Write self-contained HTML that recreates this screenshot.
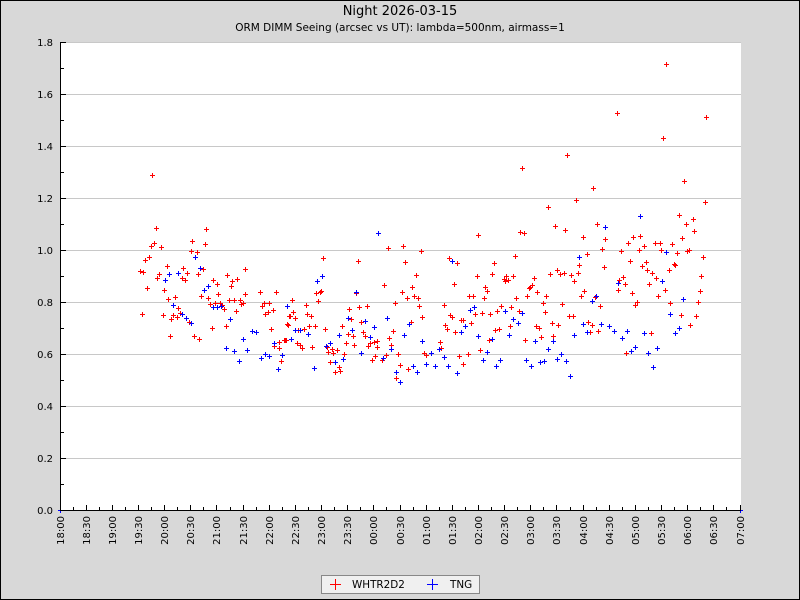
<!DOCTYPE html>
<html><head><meta charset="utf-8"><style>
html,body{margin:0;padding:0;background:#d8d8d8;}
svg{display:block;}
text{font-family:"DejaVu Sans","Liberation Sans",sans-serif;fill:#000;}
</style></head><body>
<svg width="800" height="600" viewBox="0 0 800 600" xmlns="http://www.w3.org/2000/svg" shape-rendering="crispEdges">
<rect x="0" y="0" width="800" height="600" fill="#d8d8d8"/>
<rect x="0.5" y="0.5" width="799" height="599" fill="none" stroke="#000"/>
<rect x="61" y="42" width="680" height="468" fill="#fff"/>
<path d="M61 42.5H741M61 94.5H741M61 146.5H741M61 198.5H741M61 250.5H741M61 302.5H741M61 354.5H741M61 406.5H741M61 458.5H741" stroke="#c8c8c8" fill="none"/>
<text x="400" y="15" font-size="13" text-anchor="middle">Night 2026-03-15</text>
<text x="400" y="31" font-size="10.5" text-anchor="middle">ORM DIMM Seeing (arcsec vs UT): lambda=500nm, airmass=1</text>
<g fill="none" stroke="#f00" transform="translate(-2 0.5)">
<path d="M152 175h5m-2.5-2.5v5M156 228h5m-2.5-2.5v5M206 229h5m-2.5-2.5v5M192 241h5m-2.5-2.5v5M154 243h5m-2.5-2.5v5M151 246h5m-2.5-2.5v5M161 247h5m-2.5-2.5v5M205 244h5m-2.5-2.5v5M191 251h5m-2.5-2.5v5M197 252h5m-2.5-2.5v5M149 257h5m-2.5-2.5v5M145 260h5m-2.5-2.5v5M167 266h5m-2.5-2.5v5M183 268h5m-2.5-2.5v5M203 269h5m-2.5-2.5v5M245 269h5m-2.5-2.5v5M140 271h5m-2.5-2.5v5M143 272h5m-2.5-2.5v5M159 274h5m-2.5-2.5v5M187 273h5m-2.5-2.5v5M198 274h5m-2.5-2.5v5M157 278h5m-2.5-2.5v5M182 278h5m-2.5-2.5v5M185 280h5m-2.5-2.5v5M227 275h5m-2.5-2.5v5M213 280h5m-2.5-2.5v5M237 279h5m-2.5-2.5v5M232 281h5m-2.5-2.5v5M217 284h5m-2.5-2.5v5M231 286h5m-2.5-2.5v5M147 288h5m-2.5-2.5v5M164 290h5m-2.5-2.5v5M260 292h5m-2.5-2.5v5M276 292h5m-2.5-2.5v5M218 294h5m-2.5-2.5v5M245 294h5m-2.5-2.5v5M175 297h5m-2.5-2.5v5M201 296h5m-2.5-2.5v5M208 298h5m-2.5-2.5v5M168 299h5m-2.5-2.5v5M229 300h5m-2.5-2.5v5M234 300h5m-2.5-2.5v5M240 300h5m-2.5-2.5v5M210 304h5m-2.5-2.5v5M215 303h5m-2.5-2.5v5M220 303h5m-2.5-2.5v5M222 305h5m-2.5-2.5v5M241 304h5m-2.5-2.5v5M243 303h5m-2.5-2.5v5M262 306h5m-2.5-2.5v5M264 303h5m-2.5-2.5v5M269 303h5m-2.5-2.5v5M178 308h5m-2.5-2.5v5M224 309h5m-2.5-2.5v5M236 311h5m-2.5-2.5v5M273 310h5m-2.5-2.5v5M268 312h5m-2.5-2.5v5M265 314h5m-2.5-2.5v5M180 313h5m-2.5-2.5v5M173 315h5m-2.5-2.5v5M177 317h5m-2.5-2.5v5M163 315h5m-2.5-2.5v5M171 319h5m-2.5-2.5v5M142 314h5m-2.5-2.5v5M189 322h5m-2.5-2.5v5M289 316h5m-2.5-2.5v5M287 324h5m-2.5-2.5v5M288 325h5m-2.5-2.5v5M226 326h5m-2.5-2.5v5M212 328h5m-2.5-2.5v5M271 329h5m-2.5-2.5v5M170 336h5m-2.5-2.5v5M194 336h5m-2.5-2.5v5M199 339h5m-2.5-2.5v5M279 342h5m-2.5-2.5v5M284 340h5m-2.5-2.5v5M286 340h5m-2.5-2.5v5M274 346h5m-2.5-2.5v5M279 348h5m-2.5-2.5v5M281 361h5m-2.5-2.5v5"/>
<path d="M323 258h5m-2.5-2.5v5M358 261h5m-2.5-2.5v5M388 248h5m-2.5-2.5v5M403 246h5m-2.5-2.5v5M421 251h5m-2.5-2.5v5M405 262h5m-2.5-2.5v5M416 275h5m-2.5-2.5v5M384 285h5m-2.5-2.5v5M412 287h5m-2.5-2.5v5M402 292h5m-2.5-2.5v5M407 298h5m-2.5-2.5v5M414 296h5m-2.5-2.5v5M418 298h5m-2.5-2.5v5M316 293h5m-2.5-2.5v5M320 292h5m-2.5-2.5v5M321 291h5m-2.5-2.5v5M318 301h5m-2.5-2.5v5M292 300h5m-2.5-2.5v5M356 293h5m-2.5-2.5v5M395 303h5m-2.5-2.5v5M419 306h5m-2.5-2.5v5M422 317h5m-2.5-2.5v5M306 305h5m-2.5-2.5v5M293 312h5m-2.5-2.5v5M290 316h5m-2.5-2.5v5M295 318h5m-2.5-2.5v5M307 314h5m-2.5-2.5v5M311 316h5m-2.5-2.5v5M309 326h5m-2.5-2.5v5M315 326h5m-2.5-2.5v5M304 329h5m-2.5-2.5v5M298 330h5m-2.5-2.5v5M325 329h5m-2.5-2.5v5M349 309h5m-2.5-2.5v5M359 307h5m-2.5-2.5v5M367 306h5m-2.5-2.5v5M351 319h5m-2.5-2.5v5M361 322h5m-2.5-2.5v5M342 326h5m-2.5-2.5v5M411 322h5m-2.5-2.5v5M393 331h5m-2.5-2.5v5M363 332h5m-2.5-2.5v5M365 336h5m-2.5-2.5v5M348 334h5m-2.5-2.5v5M353 336h5m-2.5-2.5v5M389 338h5m-2.5-2.5v5M285 340h5m-2.5-2.5v5M297 343h5m-2.5-2.5v5M300 345h5m-2.5-2.5v5M302 348h5m-2.5-2.5v5M312 347h5m-2.5-2.5v5M346 343h5m-2.5-2.5v5M354 345h5m-2.5-2.5v5M368 346h5m-2.5-2.5v5M370 343h5m-2.5-2.5v5M374 342h5m-2.5-2.5v5M377 341h5m-2.5-2.5v5M391 345h5m-2.5-2.5v5M377 347h5m-2.5-2.5v5M327 347h5m-2.5-2.5v5M332 349h5m-2.5-2.5v5M337 350h5m-2.5-2.5v5M328 352h5m-2.5-2.5v5M333 353h5m-2.5-2.5v5M344 354h5m-2.5-2.5v5M375 356h5m-2.5-2.5v5M372 360h5m-2.5-2.5v5M386 355h5m-2.5-2.5v5M382 360h5m-2.5-2.5v5M398 354h5m-2.5-2.5v5M424 353h5m-2.5-2.5v5M426 355h5m-2.5-2.5v5M330 362h5m-2.5-2.5v5M339 367h5m-2.5-2.5v5M335 372h5m-2.5-2.5v5M340 371h5m-2.5-2.5v5M400 365h5m-2.5-2.5v5M408 369h5m-2.5-2.5v5M396 378h5m-2.5-2.5v5"/>
<path d="M567 155h5m-2.5-2.5v5M522 168h5m-2.5-2.5v5M576 200h5m-2.5-2.5v5M548 207h5m-2.5-2.5v5M478 235h5m-2.5-2.5v5M520 232h5m-2.5-2.5v5M524 233h5m-2.5-2.5v5M555 226h5m-2.5-2.5v5M565 230h5m-2.5-2.5v5M449 258h5m-2.5-2.5v5M457 263h5m-2.5-2.5v5M515 256h5m-2.5-2.5v5M494 263h5m-2.5-2.5v5M579 265h5m-2.5-2.5v5M492 274h5m-2.5-2.5v5M477 276h5m-2.5-2.5v5M513 276h5m-2.5-2.5v5M506 276h5m-2.5-2.5v5M504 279h5m-2.5-2.5v5M508 280h5m-2.5-2.5v5M505 281h5m-2.5-2.5v5M534 278h5m-2.5-2.5v5M550 274h5m-2.5-2.5v5M557 270h5m-2.5-2.5v5M560 274h5m-2.5-2.5v5M564 273h5m-2.5-2.5v5M571 275h5m-2.5-2.5v5M578 273h5m-2.5-2.5v5M574 281h5m-2.5-2.5v5M454 284h5m-2.5-2.5v5M532 285h5m-2.5-2.5v5M530 287h5m-2.5-2.5v5M529 288h5m-2.5-2.5v5M485 287h5m-2.5-2.5v5M487 291h5m-2.5-2.5v5M537 292h5m-2.5-2.5v5M469 296h5m-2.5-2.5v5M473 296h5m-2.5-2.5v5M484 298h5m-2.5-2.5v5M516 298h5m-2.5-2.5v5M527 296h5m-2.5-2.5v5M546 296h5m-2.5-2.5v5M444 305h5m-2.5-2.5v5M543 303h5m-2.5-2.5v5M562 304h5m-2.5-2.5v5M501 306h5m-2.5-2.5v5M511 307h5m-2.5-2.5v5M497 311h5m-2.5-2.5v5M490 314h5m-2.5-2.5v5M482 313h5m-2.5-2.5v5M475 314h5m-2.5-2.5v5M519 311h5m-2.5-2.5v5M545 312h5m-2.5-2.5v5M450 315h5m-2.5-2.5v5M452 317h5m-2.5-2.5v5M461 320h5m-2.5-2.5v5M463 320h5m-2.5-2.5v5M471 323h5m-2.5-2.5v5M569 316h5m-2.5-2.5v5M573 316h5m-2.5-2.5v5M445 325h5m-2.5-2.5v5M447 329h5m-2.5-2.5v5M455 332h5m-2.5-2.5v5M510 326h5m-2.5-2.5v5M552 323h5m-2.5-2.5v5M558 325h5m-2.5-2.5v5M536 326h5m-2.5-2.5v5M539 328h5m-2.5-2.5v5M499 329h5m-2.5-2.5v5M495 330h5m-2.5-2.5v5M541 337h5m-2.5-2.5v5M553 336h5m-2.5-2.5v5M489 340h5m-2.5-2.5v5M525 340h5m-2.5-2.5v5M440 342h5m-2.5-2.5v5M441 348h5m-2.5-2.5v5M480 350h5m-2.5-2.5v5M468 354h5m-2.5-2.5v5M459 356h5m-2.5-2.5v5M463 364h5m-2.5-2.5v5"/>
<path d="M663 138h5m-2.5-2.5v5M684 181h5m-2.5-2.5v5M593 188h5m-2.5-2.5v5M705 202h5m-2.5-2.5v5M679 215h5m-2.5-2.5v5M693 219h5m-2.5-2.5v5M597 224h5m-2.5-2.5v5M686 224h5m-2.5-2.5v5M694 231h5m-2.5-2.5v5M583 237h5m-2.5-2.5v5M605 239h5m-2.5-2.5v5M633 237h5m-2.5-2.5v5M640 236h5m-2.5-2.5v5M628 243h5m-2.5-2.5v5M644 246h5m-2.5-2.5v5M655 243h5m-2.5-2.5v5M660 243h5m-2.5-2.5v5M672 244h5m-2.5-2.5v5M682 238h5m-2.5-2.5v5M602 249h5m-2.5-2.5v5M621 251h5m-2.5-2.5v5M639 250h5m-2.5-2.5v5M661 250h5m-2.5-2.5v5M677 253h5m-2.5-2.5v5M687 251h5m-2.5-2.5v5M689 250h5m-2.5-2.5v5M587 254h5m-2.5-2.5v5M703 257h5m-2.5-2.5v5M604 267h5m-2.5-2.5v5M630 261h5m-2.5-2.5v5M646 262h5m-2.5-2.5v5M642 266h5m-2.5-2.5v5M647 270h5m-2.5-2.5v5M652 273h5m-2.5-2.5v5M656 278h5m-2.5-2.5v5M669 270h5m-2.5-2.5v5M674 264h5m-2.5-2.5v5M675 265h5m-2.5-2.5v5M701 276h5m-2.5-2.5v5M623 277h5m-2.5-2.5v5M619 280h5m-2.5-2.5v5M625 284h5m-2.5-2.5v5M618 290h5m-2.5-2.5v5M649 284h5m-2.5-2.5v5M665 290h5m-2.5-2.5v5M700 291h5m-2.5-2.5v5M584 291h5m-2.5-2.5v5M581 296h5m-2.5-2.5v5M632 293h5m-2.5-2.5v5M658 296h5m-2.5-2.5v5M595 297h5m-2.5-2.5v5M600 306h5m-2.5-2.5v5M637 302h5m-2.5-2.5v5M635 305h5m-2.5-2.5v5M670 303h5m-2.5-2.5v5M698 302h5m-2.5-2.5v5M681 315h5m-2.5-2.5v5M696 316h5m-2.5-2.5v5M690 325h5m-2.5-2.5v5M588 322h5m-2.5-2.5v5M592 325h5m-2.5-2.5v5M590 332h5m-2.5-2.5v5M598 331h5m-2.5-2.5v5M651 333h5m-2.5-2.5v5M626 353h5m-2.5-2.5v5M666 64h5m-2.5-2.5v5M617 113h5m-2.5-2.5v5M706 117h5m-2.5-2.5v5"/>
</g>
<g fill="none" stroke="#00f" transform="translate(-2 0.5)">
<path d="M195 257h5m-2.5-2.5v5M200 268h5m-2.5-2.5v5M169 274h5m-2.5-2.5v5M178 273h5m-2.5-2.5v5M165 280h5m-2.5-2.5v5M208 286h5m-2.5-2.5v5M204 290h5m-2.5-2.5v5M173 305h5m-2.5-2.5v5M213 307h5m-2.5-2.5v5M217 307h5m-2.5-2.5v5M221 306h5m-2.5-2.5v5M182 314h5m-2.5-2.5v5M186 318h5m-2.5-2.5v5M191 323h5m-2.5-2.5v5M230 319h5m-2.5-2.5v5M252 331h5m-2.5-2.5v5M256 332h5m-2.5-2.5v5M243 339h5m-2.5-2.5v5M226 348h5m-2.5-2.5v5M234 351h5m-2.5-2.5v5M247 350h5m-2.5-2.5v5M239 361h5m-2.5-2.5v5M261 358h5m-2.5-2.5v5M265 354h5m-2.5-2.5v5M269 356h5m-2.5-2.5v5M278 369h5m-2.5-2.5v5M282 355h5m-2.5-2.5v5M274 343h5m-2.5-2.5v5M287 306h5m-2.5-2.5v5"/>
<path d="M378 233h5m-2.5-2.5v5M317 281h5m-2.5-2.5v5M322 276h5m-2.5-2.5v5M356 292h5m-2.5-2.5v5M348 318h5m-2.5-2.5v5M387 318h5m-2.5-2.5v5M365 321h5m-2.5-2.5v5M374 327h5m-2.5-2.5v5M352 330h5m-2.5-2.5v5M295 330h5m-2.5-2.5v5M300 330h5m-2.5-2.5v5M308 334h5m-2.5-2.5v5M339 335h5m-2.5-2.5v5M370 337h5m-2.5-2.5v5M404 335h5m-2.5-2.5v5M409 324h5m-2.5-2.5v5M291 339h5m-2.5-2.5v5M330 343h5m-2.5-2.5v5M326 346h5m-2.5-2.5v5M361 353h5m-2.5-2.5v5M391 349h5m-2.5-2.5v5M422 341h5m-2.5-2.5v5M431 353h5m-2.5-2.5v5M343 359h5m-2.5-2.5v5M335 362h5m-2.5-2.5v5M383 358h5m-2.5-2.5v5M314 368h5m-2.5-2.5v5M396 372h5m-2.5-2.5v5M400 382h5m-2.5-2.5v5M413 366h5m-2.5-2.5v5M417 372h5m-2.5-2.5v5M426 364h5m-2.5-2.5v5"/>
<path d="M452 261h5m-2.5-2.5v5M579 257h5m-2.5-2.5v5M474 307h5m-2.5-2.5v5M470 310h5m-2.5-2.5v5M505 311h5m-2.5-2.5v5M522 313h5m-2.5-2.5v5M513 319h5m-2.5-2.5v5M518 323h5m-2.5-2.5v5M465 326h5m-2.5-2.5v5M461 332h5m-2.5-2.5v5M478 336h5m-2.5-2.5v5M492 339h5m-2.5-2.5v5M509 335h5m-2.5-2.5v5M535 341h5m-2.5-2.5v5M553 341h5m-2.5-2.5v5M574 335h5m-2.5-2.5v5M548 349h5m-2.5-2.5v5M487 352h5m-2.5-2.5v5M439 349h5m-2.5-2.5v5M444 357h5m-2.5-2.5v5M435 366h5m-2.5-2.5v5M448 366h5m-2.5-2.5v5M457 373h5m-2.5-2.5v5M483 360h5m-2.5-2.5v5M500 360h5m-2.5-2.5v5M496 366h5m-2.5-2.5v5M526 360h5m-2.5-2.5v5M531 366h5m-2.5-2.5v5M540 362h5m-2.5-2.5v5M544 361h5m-2.5-2.5v5M557 359h5m-2.5-2.5v5M561 354h5m-2.5-2.5v5M566 361h5m-2.5-2.5v5M570 376h5m-2.5-2.5v5"/>
<path d="M640 216h5m-2.5-2.5v5M605 227h5m-2.5-2.5v5M666 252h5m-2.5-2.5v5M618 283h5m-2.5-2.5v5M662 281h5m-2.5-2.5v5M596 296h5m-2.5-2.5v5M592 301h5m-2.5-2.5v5M683 299h5m-2.5-2.5v5M670 314h5m-2.5-2.5v5M583 324h5m-2.5-2.5v5M601 324h5m-2.5-2.5v5M609 326h5m-2.5-2.5v5M587 332h5m-2.5-2.5v5M614 331h5m-2.5-2.5v5M627 331h5m-2.5-2.5v5M622 338h5m-2.5-2.5v5M644 333h5m-2.5-2.5v5M675 333h5m-2.5-2.5v5M679 328h5m-2.5-2.5v5M635 347h5m-2.5-2.5v5M631 351h5m-2.5-2.5v5M648 353h5m-2.5-2.5v5M657 348h5m-2.5-2.5v5M653 367h5m-2.5-2.5v5M60 510h5m-2.5-2.5v5M740 510h5m-2.5-2.5v5"/>
</g>
<path d="M60.5 42V511M60 510.5H741" stroke="#000" fill="none"/>
<path d="M61 42.5h5M61 94.5h5M61 146.5h5M61 198.5h5M61 250.5h5M61 302.5h5M61 354.5h5M61 406.5h5M61 458.5h5M61 68.5h3M61 120.5h3M61 172.5h3M61 224.5h3M61 276.5h3M61 328.5h3M61 380.5h3M61 432.5h3M61 484.5h3" stroke="#000" fill="none"/>
<path d="M86.5 505v5M112.5 505v5M138.5 505v5M164.5 505v5M190.5 505v5M216.5 505v5M243.5 505v5M269.5 505v5M295.5 505v5M321.5 505v5M347.5 505v5M373.5 505v5M400.5 505v5M426.5 505v5M452.5 505v5M478.5 505v5M504.5 505v5M530.5 505v5M556.5 505v5M583.5 505v5M609.5 505v5M635.5 505v5M661.5 505v5M687.5 505v5M713.5 505v5M740.5 505v5M73.5 507v3M99.5 507v3M125.5 507v3M151.5 507v3M177.5 507v3M203.5 507v3M230.5 507v3M256.5 507v3M282.5 507v3M308.5 507v3M334.5 507v3M360.5 507v3M386.5 507v3M413.5 507v3M439.5 507v3M465.5 507v3M491.5 507v3M517.5 507v3M543.5 507v3M570.5 507v3M596.5 507v3M622.5 507v3M648.5 507v3M674.5 507v3M700.5 507v3M726.5 507v3" stroke="#000" fill="none"/>
<g font-size="10" text-anchor="end">
<text x="53" y="46">1.8</text><text x="53" y="98">1.6</text><text x="53" y="150">1.4</text><text x="53" y="202">1.2</text><text x="53" y="254">1.0</text><text x="53" y="306">0.8</text><text x="53" y="358">0.6</text><text x="53" y="410">0.4</text><text x="53" y="462">0.2</text><text x="53" y="514">0.0</text>
</g>
<g font-size="10" text-anchor="end">
<text transform="translate(64 516) rotate(-90)">18:00</text>
<text transform="translate(90 516) rotate(-90)">18:30</text>
<text transform="translate(116 516) rotate(-90)">19:00</text>
<text transform="translate(142 516) rotate(-90)">19:30</text>
<text transform="translate(168 516) rotate(-90)">20:00</text>
<text transform="translate(194 516) rotate(-90)">20:30</text>
<text transform="translate(220 516) rotate(-90)">21:00</text>
<text transform="translate(247 516) rotate(-90)">21:30</text>
<text transform="translate(273 516) rotate(-90)">22:00</text>
<text transform="translate(299 516) rotate(-90)">22:30</text>
<text transform="translate(325 516) rotate(-90)">23:00</text>
<text transform="translate(351 516) rotate(-90)">23:30</text>
<text transform="translate(377 516) rotate(-90)">00:00</text>
<text transform="translate(404 516) rotate(-90)">00:30</text>
<text transform="translate(430 516) rotate(-90)">01:00</text>
<text transform="translate(456 516) rotate(-90)">01:30</text>
<text transform="translate(482 516) rotate(-90)">02:00</text>
<text transform="translate(508 516) rotate(-90)">02:30</text>
<text transform="translate(534 516) rotate(-90)">03:00</text>
<text transform="translate(560 516) rotate(-90)">03:30</text>
<text transform="translate(587 516) rotate(-90)">04:00</text>
<text transform="translate(613 516) rotate(-90)">04:30</text>
<text transform="translate(639 516) rotate(-90)">05:00</text>
<text transform="translate(665 516) rotate(-90)">05:30</text>
<text transform="translate(691 516) rotate(-90)">06:00</text>
<text transform="translate(717 516) rotate(-90)">06:30</text>
<text transform="translate(744 516) rotate(-90)">07:00</text>
</g>
<rect x="321.5" y="575.5" width="158" height="18" fill="#f0f0f0" stroke="#888"/>
<path d="M330 584.5h11M335.5 579v11" stroke="#f00" fill="none"/>
<path d="M427 584.5h11M432.5 579v11" stroke="#00f" fill="none"/>
<text x="352" y="588" font-size="10.4">WHTR2D2</text>
<text x="450" y="588" font-size="10.4">TNG</text>
</svg>
</body></html>
